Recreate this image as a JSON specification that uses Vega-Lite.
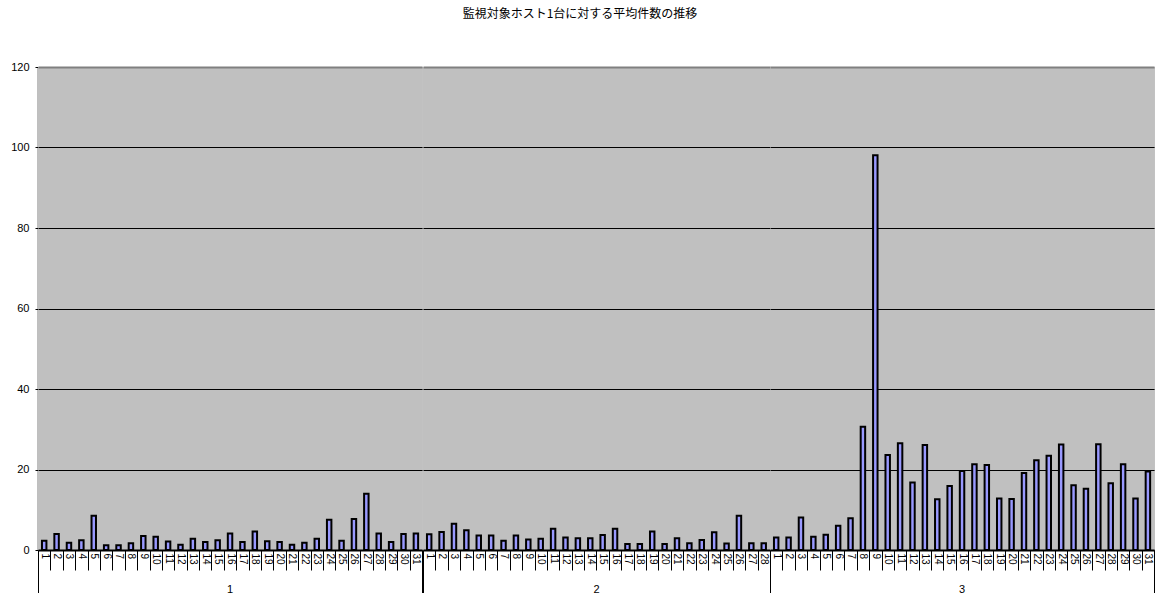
{
  "$schema": "https://vega.github.io/schema/vega-lite/v6.json",
  "background": "white",
  "padding": {"left": 5, "top": 8, "right": 0, "bottom": 0},
  "title": {"text": "監視対象ホスト1台に対する平均件数の推移", "font": "Noto Sans CJK JP", "fontSize": 12, "fontWeight": "normal", "color": "black", "offset": 40, "anchor": "middle"},
  "data": {"values": [
    {"m":1,"d":1,"v":2.3},{"m":1,"d":2,"v":4.0},{"m":1,"d":3,"v":1.8},{"m":1,"d":4,"v":2.4},{"m":1,"d":5,"v":8.5},
    {"m":1,"d":6,"v":1.2},{"m":1,"d":7,"v":1.2},{"m":1,"d":8,"v":1.7},{"m":1,"d":9,"v":3.5},{"m":1,"d":10,"v":3.3},
    {"m":1,"d":11,"v":2.1},{"m":1,"d":12,"v":1.3},{"m":1,"d":13,"v":2.8},{"m":1,"d":14,"v":2.0},{"m":1,"d":15,"v":2.4},
    {"m":1,"d":16,"v":4.1},{"m":1,"d":17,"v":2.0},{"m":1,"d":18,"v":4.6},{"m":1,"d":19,"v":2.2},{"m":1,"d":20,"v":2.0},
    {"m":1,"d":21,"v":1.3},{"m":1,"d":22,"v":1.8},{"m":1,"d":23,"v":2.8},{"m":1,"d":24,"v":7.5},{"m":1,"d":25,"v":2.3},
    {"m":1,"d":26,"v":7.7},{"m":1,"d":27,"v":14.0},{"m":1,"d":28,"v":4.1},{"m":1,"d":29,"v":2.0},{"m":1,"d":30,"v":4.0},
    {"m":1,"d":31,"v":4.1},
    {"m":2,"d":1,"v":3.9},{"m":2,"d":2,"v":4.5},{"m":2,"d":3,"v":6.5},{"m":2,"d":4,"v":4.9},{"m":2,"d":5,"v":3.6},
    {"m":2,"d":6,"v":3.6},{"m":2,"d":7,"v":2.3},{"m":2,"d":8,"v":3.6},{"m":2,"d":9,"v":2.6},{"m":2,"d":10,"v":2.8},
    {"m":2,"d":11,"v":5.3},{"m":2,"d":12,"v":3.1},{"m":2,"d":13,"v":2.9},{"m":2,"d":14,"v":2.9},{"m":2,"d":15,"v":3.7},
    {"m":2,"d":16,"v":5.3},{"m":2,"d":17,"v":1.5},{"m":2,"d":18,"v":1.5},{"m":2,"d":19,"v":4.6},{"m":2,"d":20,"v":1.5},
    {"m":2,"d":21,"v":2.9},{"m":2,"d":22,"v":1.7},{"m":2,"d":23,"v":2.5},{"m":2,"d":24,"v":4.4},{"m":2,"d":25,"v":1.6},
    {"m":2,"d":26,"v":8.5},{"m":2,"d":27,"v":1.7},{"m":2,"d":28,"v":1.7},
    {"m":3,"d":1,"v":3.1},{"m":3,"d":2,"v":3.1},{"m":3,"d":3,"v":8.1},{"m":3,"d":4,"v":3.3},{"m":3,"d":5,"v":3.8},
    {"m":3,"d":6,"v":6.0},{"m":3,"d":7,"v":7.9},{"m":3,"d":8,"v":30.6},{"m":3,"d":9,"v":98.1},{"m":3,"d":10,"v":23.6},
    {"m":3,"d":11,"v":26.5},{"m":3,"d":12,"v":16.8},{"m":3,"d":13,"v":26.1},{"m":3,"d":14,"v":12.6},{"m":3,"d":15,"v":15.9},
    {"m":3,"d":16,"v":19.6},{"m":3,"d":17,"v":21.3},{"m":3,"d":18,"v":21.1},{"m":3,"d":19,"v":12.8},{"m":3,"d":20,"v":12.7},
    {"m":3,"d":21,"v":19.1},{"m":3,"d":22,"v":22.3},{"m":3,"d":23,"v":23.4},{"m":3,"d":24,"v":26.2},{"m":3,"d":25,"v":16.1},
    {"m":3,"d":26,"v":15.2},{"m":3,"d":27,"v":26.3},{"m":3,"d":28,"v":16.6},{"m":3,"d":29,"v":21.3},{"m":3,"d":30,"v":12.8},
    {"m":3,"d":31,"v":19.5}
  ]},
  "facet": {"column": {"field": "m", "type": "ordinal", "header": {"title": null, "labelOrient": "bottom", "labelFont": "Liberation Sans", "labelFontSize": 11, "labelColor": "black", "labelPadding": 34}}},
  "spacing": 0,
  "bounds": "flush",
  "resolve": {"scale": {"x": "independent"}},
  "spec": {
    "width": {"step": 12.39},
    "height": 483,
    "mark": {"type": "bar", "fill": "#9999ff", "stroke": "black", "strokeWidth": 2, "width": {"band": 0.36}},
    "encoding": {
      "x": {"field": "d", "type": "ordinal", "scale": {"paddingInner": 0, "paddingOuter": 0},
        "axis": {"title": null, "labelAngle": 90, "labelFont": "Liberation Sans", "labelFontSize": 10, "labelColor": "black",
          "tickBand": "extent", "tickColor": "black", "tickWidth": 1,
          "tickSize": {"condition": {"test": "datum.extra || datum.index == 1", "value": 45}, "value": 20},
          "labelPadding": {"condition": {"test": "datum.index == 1", "value": -42}, "value": -17},
          "domainColor": "black", "domainWidth": 2, "grid": false}},
      "y": {"field": "v", "type": "quantitative", "scale": {"domain": [0, 120]},
        "axis": {"title": null, "values": [0, 20, 40, 60, 80, 100, 120], "labelFont": "Liberation Sans", "labelFontSize": 11, "labelColor": "black",
          "tickColor": "black", "tickSize": 3, "labelPadding": 6, "domainColor": "black", "domainWidth": 1.5, "minExtent": 33,
          "gridColor": {"condition": {"test": "datum.value == 120", "value": "#808080"}, "value": "black"},
          "gridWidth": {"condition": {"test": "datum.value == 120", "value": 2}, "value": 1}}}
    }
  },
  "config": {"view": {"stroke": "#c0c0c0", "strokeWidth": 1, "fill": "#c0c0c0"}}
}
